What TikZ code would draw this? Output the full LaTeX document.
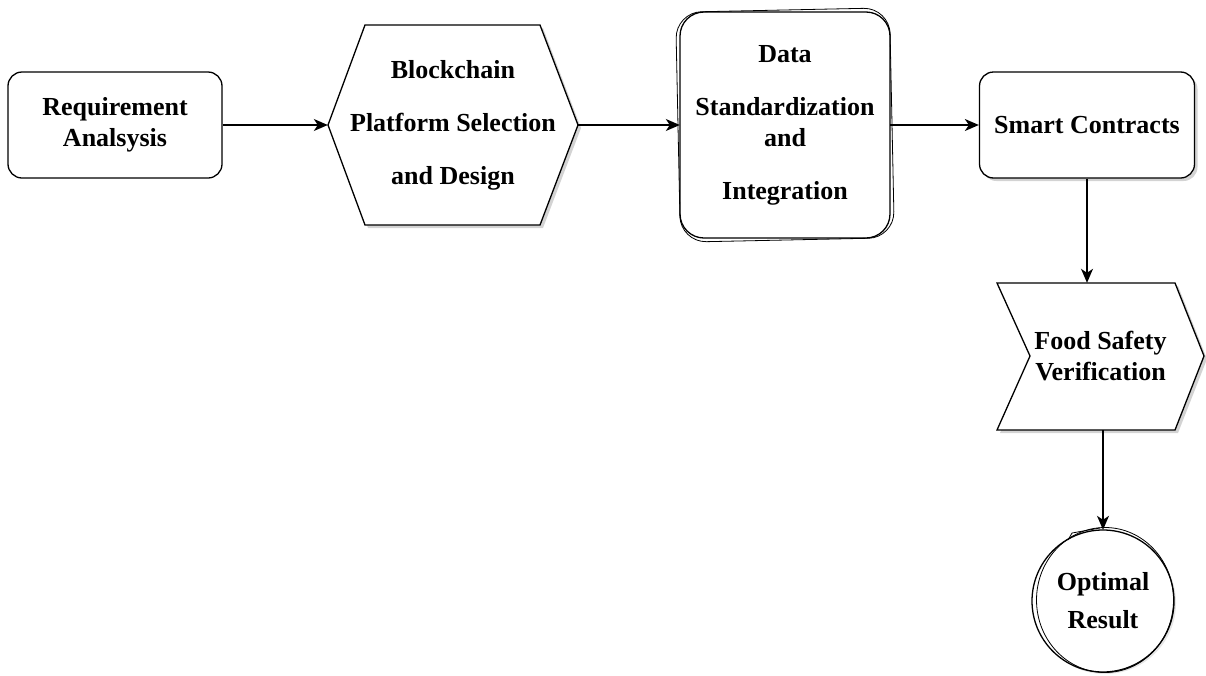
\documentclass[tikz,border=0pt]{standalone}
\usepackage{fontspec}
\setmainfont{Liberation Serif}
\usetikzlibrary{arrows.meta,shadows}

\tikzset{
  lbl/.style={font=\bfseries\fontsize{26}{31}\selectfont, align=center, inner sep=0pt},
  edge/.style={line width=1.3pt},
  card/.style={lbl, draw, edge, rounded corners=14pt, fill=white},
  shade/.style={drop shadow={shadow xshift=3pt, shadow yshift=-3pt, opacity=0.35}},
  flow/.style={-{Stealth[length=14pt,width=12pt,inset=4pt]}, line width=1.3pt},
}

\begin{document}
\begin{tikzpicture}[x=1pt,y=-1pt]
\useasboundingbox (0,0) rectangle (1206,675);
% shapes
\draw[edge, shade, fill=white] (328,125) -- (365,25) -- (540,25) -- (578,125) -- (540,225) -- (365,225) -- cycle;
\draw[edge, fill=white, rounded corners=24pt] (680,12) rectangle (890,238);
\draw[line width=0.8pt, rounded corners=26pt, rotate around={1.2:(785,125)}] (678,10) rectangle (892,240);
\draw[edge, shade, fill=white] (997,283) -- (1175,283) -- (1204,356) -- (1175,430) -- (997,430) -- (1030,356) -- cycle;
\draw[edge, fill=white, drop shadow={shadow xshift=2pt, shadow yshift=-2pt, opacity=0.2}] (1103,601) circle[radius=71pt];
\draw[line width=0.8pt] (1105,600) circle[x radius=68.5pt, y radius=72.5pt];
\draw[line width=0.8pt] (1068,540) -- (1072,533) -- (1100,528);
% nodes
\node[card, minimum width=214pt, minimum height=106pt] (req) at (115,125) {Requirement\\Analsysis};
\node[lbl, minimum width=250pt, minimum height=200pt] (plat) at (453,125) {Blockchain\\[22pt]Platform Selection\\[22pt]and Design};
\node[lbl, minimum width=210pt, minimum height=226pt] (data) at (785,125) {Data\\[22pt]Standardization\\and\\[22pt]Integration};
\node[card, shade, minimum width=215pt, minimum height=106pt] (smart) at (1087,125) {Smart Contracts};
\node[lbl, minimum width=207pt, minimum height=147pt] (food) at (1100.5,356.5) {Food Safety\\Verification};
\node[lbl, circle, minimum size=142pt] (res) at (1103,601) {Optimal\\[7pt]Result};
% connectors
\draw[flow] (req) -- (plat);
\draw[flow] (plat) -- (data);
\draw[flow] (data) -- (smart);
\draw[flow] (smart.south) -- (smart.south |- food.north);
\draw[flow] (res.north |- food.south) -- (res.north);
\end{tikzpicture}
\end{document}
